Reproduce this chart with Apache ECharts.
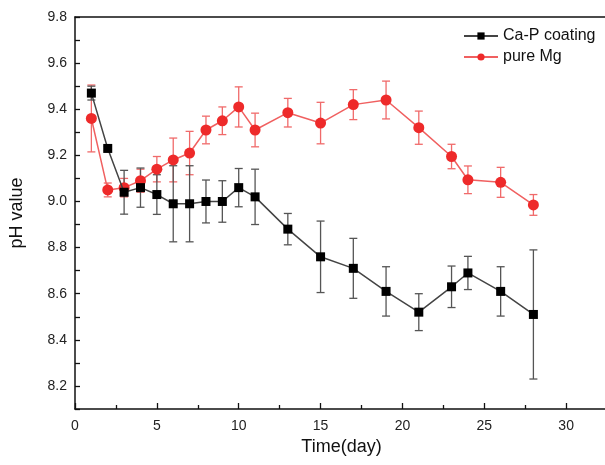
<!DOCTYPE html>
<html>
<head>
<meta charset="utf-8">
<script src="https://cdn.jsdelivr.net/npm/echarts@6/dist/echarts.min.js"></script>
<style>
html, body { margin: 0; padding: 0; background: #fff; }
#chart { width: 605px; height: 465px; }
</style>
</head>
<body>
<div id="chart"></div>
<script>
var days = [1, 2, 3, 4, 5, 6, 7, 8, 9, 10, 11, 13, 15, 17, 19, 21, 23, 24, 26, 28];

// Ca-P coating
var capValues = [9.47, 9.23, 9.04, 9.06, 9.03, 8.99, 8.99, 9.00, 9.00, 9.06, 9.02, 8.88, 8.76, 8.71, 8.61, 8.52, 8.63, 8.69, 8.61, 8.51];
var capErrors = [0.03, 0.01, 0.095, 0.085, 0.086, 0.165, 0.165, 0.093, 0.09, 0.083, 0.12, 0.068, 0.155, 0.13, 0.107, 0.08, 0.09, 0.072, 0.107, 0.28];

// pure Mg
var mgValues = [9.36, 9.05, 9.06, 9.09, 9.14, 9.18, 9.21, 9.31, 9.35, 9.41, 9.31, 9.385, 9.34, 9.42, 9.44, 9.32, 9.195, 9.094, 9.083, 8.985];
var mgErrors = [0.145, 0.03, 0.04, 0.05, 0.055, 0.095, 0.094, 0.06, 0.06, 0.087, 0.073, 0.062, 0.09, 0.065, 0.082, 0.072, 0.053, 0.06, 0.065, 0.045];

var seriesNames = ['Ca-P coating', 'pure Mg'];

function pairs(xs, ys) {
    var out = [];
    for (var i = 0; i < xs.length; i++) {
        out.push([xs[i], ys[i]]);
    }
    return out;
}

function errRows(xs, ys, es) {
    var out = [];
    for (var i = 0; i < xs.length; i++) {
        out.push([xs[i], ys[i] - es[i], ys[i] + es[i]]);
    }
    return out;
}

// draws one vertical error bar with caps
function errorBar(color) {
    return function (params, api) {
        var lo = api.coord([api.value(0), api.value(1)]);
        var hi = api.coord([api.value(0), api.value(2)]);
        var w = 4;
        var st = { stroke: color, lineWidth: 1.3 };
        return {
            type: 'group',
            children: [
                { type: 'line', shape: { x1: lo[0], y1: lo[1], x2: hi[0], y2: hi[1] }, style: st },
                { type: 'line', shape: { x1: lo[0] - w, y1: lo[1], x2: lo[0] + w, y2: lo[1] }, style: st },
                { type: 'line', shape: { x1: hi[0] - w, y1: hi[1], x2: hi[0] + w, y2: hi[1] }, style: st }
            ]
        };
    };
}

var myChart = echarts.init(document.getElementById('chart'));

var fontName = 'Liberation Sans, Arial, sans-serif';

var option = {
    backgroundColor: '#fff',
    animation: false,
    textStyle: { fontFamily: fontName },
    grid: { left: 75, top: 17, bottom: 56, right: -43, outerBoundsMode: 'none', containLabel: false },
    legend: {
        orient: 'vertical',
        left: 458,
        top: 23,
        itemGap: 5,
        itemWidth: 34,
        itemHeight: 9,
        textStyle: { fontSize: 16, color: '#111', fontFamily: fontName },
        data: seriesNames
    },
    xAxis: [{
        type: 'value',
        min: 0,
        max: 35,
        interval: 5,
        name: 'Time(day)',
        nameLocation: 'middle',
        nameGap: 29,
        nameTextStyle: { fontSize: 18, color: '#111', padding: [0, 40, 0, 0] },
        axisLine: { show: true, onZero: false, lineStyle: { color: '#111', width: 1.5 } },
        axisTick: { inside: true, length: 6, lineStyle: { color: '#111', width: 1.3 } },
        minorTick: { show: true, splitNumber: 2, length: 4, lineStyle: { color: '#111', width: 1.3 } },
        axisLabel: { fontSize: 14, color: '#222', margin: 10 },
        splitLine: { show: false }
    }, {
        type: 'value',
        position: 'top',
        min: 0,
        max: 35,
        axisLine: { show: true, onZero: false, lineStyle: { color: '#111', width: 1.5 } },
        axisTick: { show: false },
        axisLabel: { show: false },
        splitLine: { show: false }
    }],
    yAxis: {
        type: 'value',
        min: 8.1,
        max: 9.8,
        interval: 0.1,
        name: 'pH value',
        nameLocation: 'middle',
        nameGap: 49,
        nameTextStyle: { fontSize: 18, color: '#111' },
        axisLine: { show: true, onZero: false, lineStyle: { color: '#111', width: 1.5 } },
        axisTick: { inside: true, length: 5, lineStyle: { color: '#111', width: 1.3 } },
        axisLabel: {
            fontSize: 14,
            color: '#222',
            margin: 8,
            formatter: function (v) {
                var k = Math.round(v * 10);
                return k % 2 === 0 ? v.toFixed(1) : '';
            }
        },
        splitLine: { show: false }
    },
    series: [
        {
            type: 'custom',
            name: 'mgErr',
            renderItem: errorBar('#f06a6a'),
            data: errRows(days, mgValues, mgErrors),
            encode: { x: 0, y: [1, 2] },
            z: 1,
            silent: true
        },
        {
            type: 'custom',
            name: 'capErr',
            renderItem: errorBar('#555555'),
            data: errRows(days, capValues, capErrors),
            encode: { x: 0, y: [1, 2] },
            z: 1,
            silent: true
        },
        {
            name: seriesNames[1],
            type: 'line',
            data: pairs(days, mgValues),
            symbol: 'circle',
            symbolSize: 11,
            itemStyle: { color: '#ee2a2a' },
            lineStyle: { color: '#f06060', width: 1.5 },
            z: 3
        },
        {
            name: seriesNames[0],
            type: 'line',
            data: pairs(days, capValues),
            symbol: 'rect',
            symbolSize: 9,
            itemStyle: { color: '#000' },
            lineStyle: { color: '#444', width: 1.5 },
            z: 4
        }
    ]
};

myChart.setOption(option);
</script>
</body>
</html>
